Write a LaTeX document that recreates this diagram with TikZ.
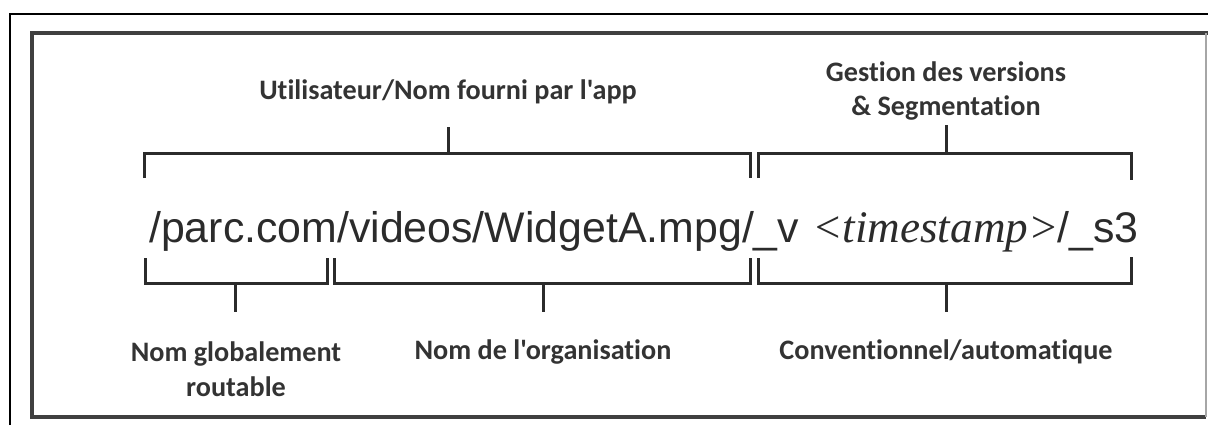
\documentclass[tikz,border=0pt]{standalone}
\usepackage{fontspec}
\setmainfont{Liberation Sans}
\newfontfamily\labfont[Ligatures=NoCommon]{Carlito}
\newfontfamily\tmsfont{Liberation Serif}
\definecolor{ink}{HTML}{2B2B2B}
\definecolor{lab}{HTML}{333333}
\begin{document}
\begin{tikzpicture}[x=1bp,y=-1bp,
  brk/.style={line width=3bp,draw=ink,line join=miter},
  tick/.style={line width=3bp,draw=ink},
  lbl/.style={font=\labfont\bfseries\fontsize{28.3}{35}\selectfont,text=lab,align=center,inner sep=0pt},
  urlt/.style={anchor=base west,inner sep=0pt,text=ink,font=\fontsize{43}{43}\selectfont},
  frame/.style={line width=2bp,draw=black},
  box/.style={line width=3.5bp,draw=ink!90,line join=miter}]
\useasboundingbox (0,0) rectangle (1208,425);
% outer frame (top and left)
\coordinate (oa) at (10,425);
\coordinate (ob) at (10,14);
\coordinate (oc) at (1208,14);
\draw[frame] (oa) -- (ob) -- (oc);
% inner box
\coordinate (ia) at (1206,33);
\coordinate (ib) at (32,33);
\coordinate (ic) at (32,417);
\coordinate (id) at (1206,417);
\draw[box] (1208,33) -- (ib) -- (ic) -- (id);
\draw[line width=1.5bp,draw=black!35] (ia) -- (id);
% main text
\node[urlt] (url) at (149,242) {/parc.com/videos/WidgetA.mpg/\_v};
\node[urlt,font=\tmsfont\itshape\fontsize{45.3}{45.3}\selectfont] (ts) at (812,242) {<timestamp>};
\node[urlt,anchor=base east] (seg) at (1139,242) {/\_s3};
% top brackets
\coordinate (t1a) at (144,178); \coordinate (t1b) at (144,153);
\coordinate (t1c) at (750,153); \coordinate (t1d) at (750,178);
\coordinate (t1m) at (448,153); \coordinate (t1t) at (448,127);
\draw[brk] (t1a) -- (t1b) -- (t1c) -- (t1d);
\draw[tick] (t1m) -- (t1t);
\coordinate (t2a) at (758,178); \coordinate (t2b) at (758,153);
\coordinate (t2c) at (1131,153); \coordinate (t2d) at (1131,180);
\coordinate (t2m) at (946,153); \coordinate (t2t) at (946,125);
\draw[brk] (t2a) -- (t2b) -- (t2c) -- (t2d);
\draw[tick] (t2m) -- (t2t);
% bottom brackets
\coordinate (b1a) at (145,258); \coordinate (b1b) at (145,283);
\coordinate (b1c) at (327,283); \coordinate (b1d) at (327,258);
\coordinate (b1m) at (235,283); \coordinate (b1t) at (235,312);
\draw[brk] (b1a) -- (b1b) -- (b1c) -- (b1d);
\draw[tick] (b1m) -- (b1t);
\coordinate (b2a) at (334,258); \coordinate (b2b) at (334,283);
\coordinate (b2c) at (750,283); \coordinate (b2d) at (750,258);
\coordinate (b2m) at (543,283); \coordinate (b2t) at (543,312);
\draw[brk] (b2a) -- (b2b) -- (b2c) -- (b2d);
\draw[tick] (b2m) -- (b2t);
\coordinate (b3a) at (758,258); \coordinate (b3b) at (758,283);
\coordinate (b3c) at (1131,283); \coordinate (b3d) at (1131,257);
\coordinate (b3m) at (946,283); \coordinate (b3t) at (946,312);
\draw[brk] (b3a) -- (b3b) -- (b3c) -- (b3d);
\draw[tick] (b3m) -- (b3t);
% labels
\node[lbl] (l1) at (448,92) {Utilisateur/Nom fourni par l'app};
\node[lbl] (l2) at (946,91) {Gestion des versions\\\& Segmentation};
\node[lbl] (l3) at (236,369) {Nom globalement\\routable};
\node[lbl] (l4) at (543,352) {Nom de l'organisation};
\node[lbl] (l5) at (946,352) {Conventionnel/automatique};
\end{tikzpicture}
\end{document}
